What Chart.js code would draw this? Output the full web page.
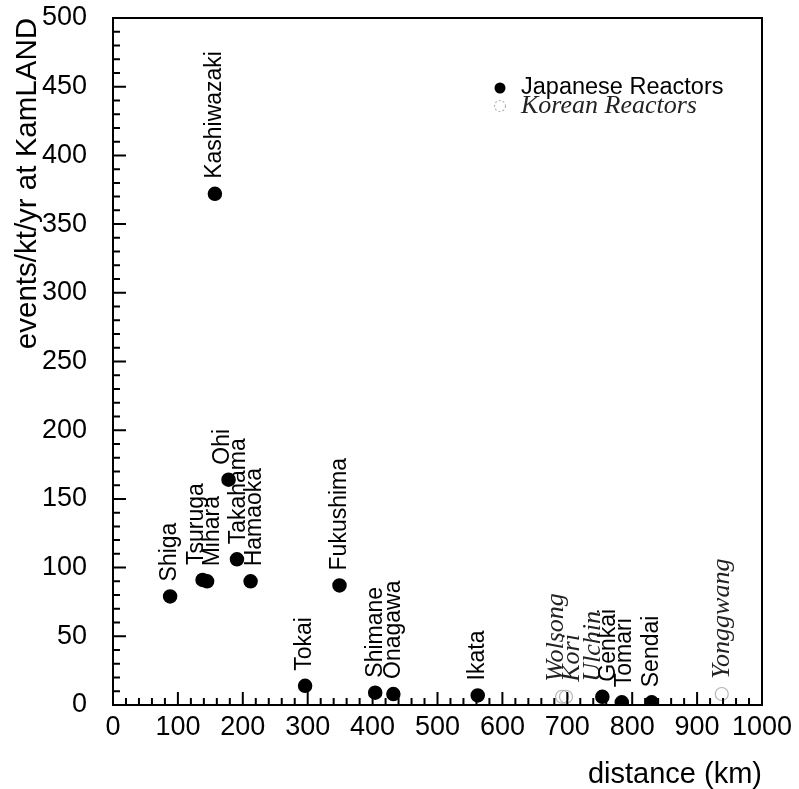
<!DOCTYPE html>
<html>
<head>
<meta charset="utf-8">
<script src="https://cdn.jsdelivr.net/npm/chart.js@4.4.1/dist/chart.umd.min.js"></script>
<style>
  html, body { margin: 0; padding: 0; background: #fff; }
  #wrap { width: 799px; height: 789px; }
</style>
</head>
<body>
<div id="wrap"><canvas id="chart"></canvas></div>
<script>
// Reactores japoneses: distancia (km) y eventos/kt/año
const japanNames = ['Shiga', 'Tsuruga', 'Mihara', 'Kashiwazaki', 'Ohi', 'Takahama', 'Hamaoka', 'Tokai',
  'Fukushima', 'Shimane', 'Onagawa', 'Ikata', 'Genkai', 'Tomari', 'Sendai'];
const japanDistance = [88, 138, 145, 157, 178, 191, 212, 296, 349, 404, 432, 562, 754, 784, 830];
const japanRate = [79, 91, 90, 372, 164, 106, 90, 14, 87, 9, 8, 7, 6, 2, 2];

// Reactores coreanos
const koreaNames = ['Wolsong', 'Kori', 'Ulchin', 'Yonggwang'];
const koreaDistance = [692, 698, 754, 938];
const koreaRate = [6, 6, 6, 8];

// Marcas de los ejes
const xTickValues = [0, 100, 200, 300, 400, 500, 600, 700, 800, 900, 1000];
const yTickValues = [0, 50, 100, 150, 200, 250, 300, 350, 400, 450, 500];
const xMinorStep = 20;
const yMinorStep = 10;

const sansFont = '"Liberation Sans", Arial, Helvetica, sans-serif';
const serifFont = '"Liberation Serif", "Times New Roman", serif';

function toPoints(xs, ys) {
  return xs.map((x, i) => ({ x: x, y: ys[i] }));
}

/* Marco del gráfico con marcas hacia dentro, al estilo ROOT */
const frameTicks = {
  id: 'frameTicks',
  afterDatasetsDraw(chart) {
    const { ctx, chartArea: a, scales: { x, y } } = chart;
    ctx.save();
    ctx.strokeStyle = '#000';
    ctx.lineWidth = 2;
    ctx.beginPath();
    for (let v = x.min; v <= x.max; v += xMinorStep) {
      const px = x.getPixelForValue(v);
      const len = xTickValues.includes(v) ? 13 : 7;
      ctx.moveTo(px, a.bottom);
      ctx.lineTo(px, a.bottom - len);
    }
    for (let v = y.min; v <= y.max; v += yMinorStep) {
      const py = y.getPixelForValue(v);
      const len = yTickValues.includes(v) ? 13 : 7;
      ctx.moveTo(a.left, py);
      ctx.lineTo(a.left + len, py);
    }
    ctx.stroke();
    ctx.strokeRect(a.left, a.top, a.right - a.left, a.bottom - a.top);
    ctx.restore();
  }
};

/* Etiquetas verticales encima de cada reactor, separadas si se pisan */
const reactorLabels = {
  id: 'reactorLabels',
  afterDatasetsDraw(chart) {
    const ctx = chart.ctx;
    const items = [];
    chart.data.datasets.forEach((ds, i) => {
      const meta = chart.getDatasetMeta(i);
      ctx.font = ds.labelFont;
      meta.data.forEach((pt, j) => {
        const w = ctx.measureText(ds.names[j]).width;
        const bottom = pt.y - 15;
        items.push({ text: ds.names[j], font: ds.labelFont, color: ds.labelColor,
          px: pt.x, lx: pt.x, bottom: bottom, top: bottom - w });
      });
    });
    items.sort((p, q) => p.px - q.px);
    const gap = 16;
    for (let it = 0; it < 100; it++) {
      let moved = false;
      for (let i = 0; i < items.length; i++) {
        for (let j = i + 1; j < items.length; j++) {
          const p = items[i], q = items[j];
          if (p.top > q.bottom || q.top > p.bottom) continue;
          const d = q.lx - p.lx;
          if (d < gap - 0.01) {
            const push = (gap - d) / 2;
            p.lx -= push;
            q.lx += push;
            moved = true;
          }
        }
      }
      if (!moved) break;
    }
    items.forEach(it => {
      ctx.save();
      ctx.translate(it.lx, it.bottom);
      ctx.rotate(-Math.PI / 2);
      ctx.font = it.font;
      ctx.fillStyle = it.color;
      ctx.textAlign = 'left';
      ctx.textBaseline = 'middle';
      ctx.fillText(it.text, 0, 0);
      ctx.restore();
    });
  }
};

/* Leyenda dentro del área del gráfico, arriba a la derecha */
const insideLegend = {
  id: 'insideLegend',
  afterDraw(chart) {
    const { ctx, chartArea: a } = chart;
    const x0 = a.right - 262;
    const y0 = a.top + 70;
    const rows = [chart.data.datasets[1], chart.data.datasets[0]];
    ctx.save();
    rows.forEach((ds, i) => {
      const cy = y0 + i * 18;
      ctx.beginPath();
      ctx.arc(x0, cy, 5.5, 0, Math.PI * 2);
      if (ds.filled) {
        ctx.fillStyle = ds.backgroundColor;
        ctx.fill();
      } else {
        ctx.strokeStyle = ds.borderColor;
        ctx.lineWidth = 1.2;
        ctx.setLineDash([2, 2]);
        ctx.stroke();
        ctx.setLineDash([]);
      }
      ctx.font = ds.legendFont;
      ctx.fillStyle = ds.labelColor;
      ctx.textAlign = 'left';
      ctx.textBaseline = 'middle';
      ctx.fillText(ds.label, x0 + 21, cy);
    });
    ctx.restore();
  }
};

new Chart(document.getElementById('chart'), {
  type: 'scatter',
  data: {
    datasets: [{
      label: 'Korean Reactors',
      names: koreaNames,
      data: toPoints(koreaDistance, koreaRate),
      order: 2,
      pointRadius: 6.5,
      pointHoverRadius: 6.5,
      backgroundColor: 'rgba(0,0,0,0)',
      borderColor: '#b4b4b4',
      borderWidth: 1.2,
      filled: false,
      labelFont: 'italic 26px ' + serifFont,
      legendFont: 'italic 26px ' + serifFont,
      labelColor: '#222'
    }, {
      label: 'Japanese Reactors',
      names: japanNames,
      data: toPoints(japanDistance, japanRate),
      order: 1,
      pointRadius: 6.5,
      pointHoverRadius: 6.5,
      backgroundColor: '#000',
      borderColor: '#000',
      borderWidth: 1.5,
      filled: true,
      labelFont: '23px ' + sansFont,
      legendFont: '23.5px ' + sansFont,
      labelColor: '#000'
    }]
  },
  options: {
    responsive: true,
    maintainAspectRatio: false,
    animation: false,
    layout: { padding: { top: 18, right: 37, left: 0, bottom: 0 } },
    scales: {
      x: {
        type: 'linear',
        min: 0,
        max: 1000,
        afterBuildTicks: s => { s.ticks = xTickValues.map(v => ({ value: v })); },
        afterFit: s => { s.height = 84; s.paddingLeft = 0; s.paddingRight = 0; },
        grid: { display: false, drawTicks: false },
        border: { display: false },
        ticks: {
          padding: 6,
          color: '#000',
          maxRotation: 0,
          autoSkip: false,
          callback: v => String(v),
          font: { family: sansFont, size: 27 }
        },
        title: {
          display: true,
          text: 'distance (km)',
          align: 'end',
          color: '#000',
          padding: { top: 0, bottom: 0 },
          font: { family: sansFont, size: 29, lineHeight: 1 }
        }
      },
      y: {
        type: 'linear',
        min: 0,
        max: 500,
        afterBuildTicks: s => { s.ticks = yTickValues.map(v => ({ value: v })); },
        afterFit: s => { s.width = 113; s.paddingTop = 0; s.paddingBottom = 0; },
        grid: { display: false, drawTicks: false },
        border: { display: false },
        ticks: {
          padding: 26,
          color: '#000',
          autoSkip: false,
          callback: v => String(v),
          font: { family: sansFont, size: 27 }
        },
        title: {
          display: true,
          text: 'events/kt/yr at KamLAND',
          align: 'end',
          color: '#000',
          padding: { top: 13, bottom: 0 },
          font: { family: sansFont, size: 29.5, lineHeight: 1 }
        }
      }
    },
    plugins: {
      legend: { display: false },
      tooltip: { enabled: false }
    }
  },
  plugins: [frameTicks, reactorLabels, insideLegend]
});
</script>
</body>
</html>
